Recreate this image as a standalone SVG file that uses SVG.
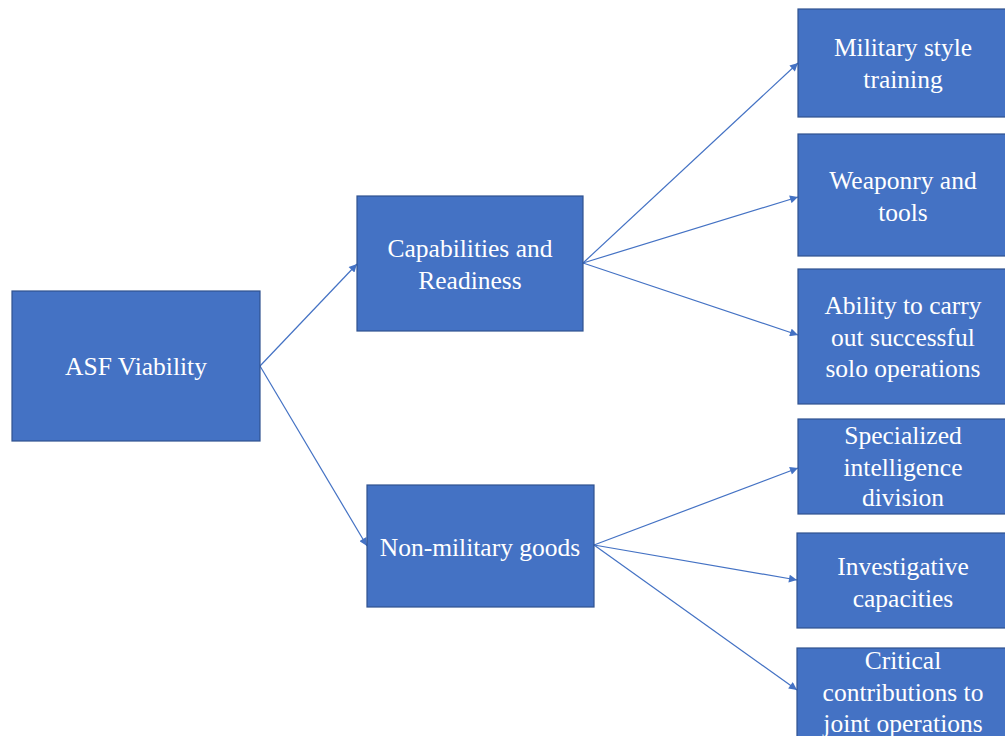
<svg xmlns="http://www.w3.org/2000/svg" width="1005" height="736" viewBox="0 0 1005 736">
<defs>
<marker id="ah" viewBox="0 0 10 10" refX="10" refY="5" markerWidth="9" markerHeight="8" markerUnits="userSpaceOnUse" orient="auto">
<path d="M0,0 L10,5 L0,10 z" fill="#4472C4"/>
</marker>
</defs>
<style>
.box{fill:#4472C4;stroke:#2F528F;stroke-width:1.2}
.t{font-family:"Liberation Serif","Times New Roman",serif;font-size:25.5px;fill:#fff;text-anchor:middle}
.c{stroke:#4472C4;stroke-width:1.2;fill:none;marker-end:url(#ah)}
</style>
<rect width="1005" height="736" fill="#fff"/>
<g id="connectors">
<line class="c" x1="260" y1="366" x2="357" y2="264"/>
<line class="c" x1="260" y1="366" x2="367" y2="546"/>
<line class="c" x1="583" y1="263" x2="798" y2="63"/>
<line class="c" x1="583" y1="263" x2="798" y2="197"/>
<line class="c" x1="583" y1="263" x2="798" y2="335"/>
<line class="c" x1="594" y1="545" x2="798" y2="468"/>
<line class="c" x1="594" y1="545" x2="797" y2="580"/>
<line class="c" x1="594" y1="545" x2="797" y2="690"/>
</g>
<g id="asf">
<rect class="box" x="12" y="291" width="248" height="150"/>
<text class="t" x="136" y="375">ASF Viability</text>
</g>
<g id="capabilities">
<rect class="box" x="357" y="196" width="226" height="135"/>
<text class="t" x="470" y="257">Capabilities and</text>
<text class="t" x="470" y="289">Readiness</text>
</g>
<g id="nonmilitary">
<rect class="box" x="367" y="485" width="227" height="122"/>
<text class="t" x="480" y="556">Non-military goods</text>
</g>
<g id="military">
<rect class="box" x="798" y="9" width="210" height="108"/>
<text class="t" x="903" y="56">Military style</text>
<text class="t" x="903" y="88">training</text>
</g>
<g id="weaponry">
<rect class="box" x="798" y="134" width="210" height="122"/>
<text class="t" x="903" y="189">Weaponry and</text>
<text class="t" x="903" y="221">tools</text>
</g>
<g id="ability">
<rect class="box" x="798" y="269" width="210" height="135"/>
<text class="t" x="903" y="314">Ability to carry</text>
<text class="t" x="903" y="346">out successful</text>
<text class="t" x="903" y="377">solo operations</text>
</g>
<g id="specialized">
<rect class="box" x="798" y="419" width="210" height="95"/>
<text class="t" x="903" y="444">Specialized</text>
<text class="t" x="903" y="476">intelligence</text>
<text class="t" x="903" y="506">division</text>
</g>
<g id="investigative">
<rect class="box" x="797" y="533" width="211" height="95"/>
<text class="t" x="903" y="575">Investigative</text>
<text class="t" x="903" y="607">capacities</text>
</g>
<g id="critical">
<rect class="box" x="797" y="648" width="211" height="95"/>
<text class="t" x="903" y="669">Critical</text>
<text class="t" x="903" y="701">contributions to</text>
<text class="t" x="903" y="732">joint operations</text>
</g>
</svg>
